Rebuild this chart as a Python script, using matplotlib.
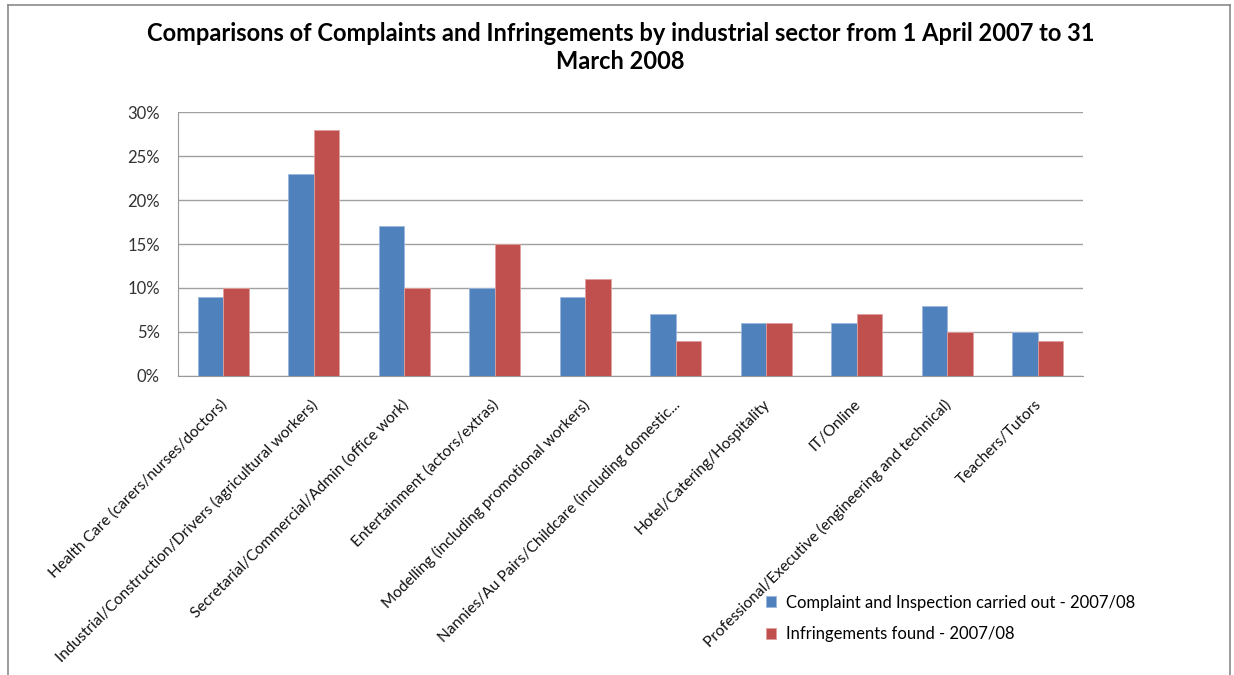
import matplotlib.pyplot as plt
import matplotlib.transforms as mtransforms
from matplotlib.lines import Line2D
import numpy as np

plt.rcParams['font.family'] = ['Lato', 'DejaVu Sans']

categories = [
    "Health Care (carers/nurses/doctors)",
    "Industrial/Construction/Drivers (agricultural workers)",
    "Secretarial/Commercial/Admin (office work)",
    "Entertainment (actors/extras)",
    "Modelling (including promotional workers)",
    "Nannies/Au Pairs/Childcare (including domestic...",
    "Hotel/Catering/Hospitality",
    "IT/Online",
    "Professional/Executive (engineering and technical)",
    "Teachers/Tutors",
]
complaints = [9, 23, 17, 10, 9, 7, 6, 6, 8, 5]
infringements = [10, 28, 10, 15, 11, 4, 6, 7, 5, 4]
series_names = ["Complaint and Inspection carried out - 2007/08",
                "Infringements found - 2007/08"]
yticks = [0, 5, 10, 15, 20, 25, 30]

blue = '#4F81BD'
red = '#C0504D'

fig = plt.figure(figsize=(12.34, 6.75), dpi=100)
ax = fig.add_axes([0.1442, 0.443, 0.7334, 0.391])

x = np.arange(len(categories))
w = 0.28
ax.bar(x - w / 2, complaints, w, color=blue, edgecolor='#9bb7dc', linewidth=0.6,
       label=series_names[0], zorder=3)
ax.bar(x + w / 2, infringements, w, color=red, edgecolor='#e0a09e', linewidth=0.6,
       label=series_names[1], zorder=3)

ax.set_xlim(-0.5, len(categories) - 0.5)
ax.set_ylim(0, 30)
ax.set_yticks(yticks)
ax.set_yticklabels([f"{v}%" for v in yticks], fontsize=12, color='#333333')
ax.yaxis.grid(True, color='#a0a0a0', linewidth=1, zorder=0)
ax.tick_params(axis='y', length=0, pad=13)
ax.tick_params(axis='x', length=0, pad=19)

for s in ['top', 'right']:
    ax.spines[s].set_visible(False)
ax.spines['left'].set_color('#9a9a9a')
ax.spines['bottom'].set_color('#9a9a9a')

ax.set_xticks(x)
labels = ax.set_xticklabels(categories, rotation=45, ha='right', va='center',
                            rotation_mode='anchor', fontsize=11.2, color='#111111')
# nudge so the top corner of each label sits under its category
nudge = mtransforms.ScaledTranslation(2 / 100, 0, fig.dpi_scale_trans)
for lab in labels:
    lab.set_transform(lab.get_transform() + nudge)

fig.text(0.503, 0.968, "Comparisons of Complaints and Infringements by industrial sector from 1 April 2007 to 31\nMarch 2008",
         ha='center', va='top', fontsize=17, fontweight='bold', linespacing=1.3)

fig.legend(loc='upper left', bbox_to_anchor=(0.615, 0.129), frameon=False,
           fontsize=12, handlelength=0.65, handleheight=0.65, handletextpad=0.55,
           labelspacing=0.95, borderaxespad=0)

# chart frame
for xs, ys in [([8, 8], [0, 670]), ([8, 1230], [670, 670]), ([1230, 1230], [0, 670])]:
    fig.add_artist(Line2D(np.array(xs) / 1234, np.array(ys) / 675,
                          color='#8a8a8a', linewidth=1.2))

fig.savefig('out.png', dpi=100, facecolor='white')
